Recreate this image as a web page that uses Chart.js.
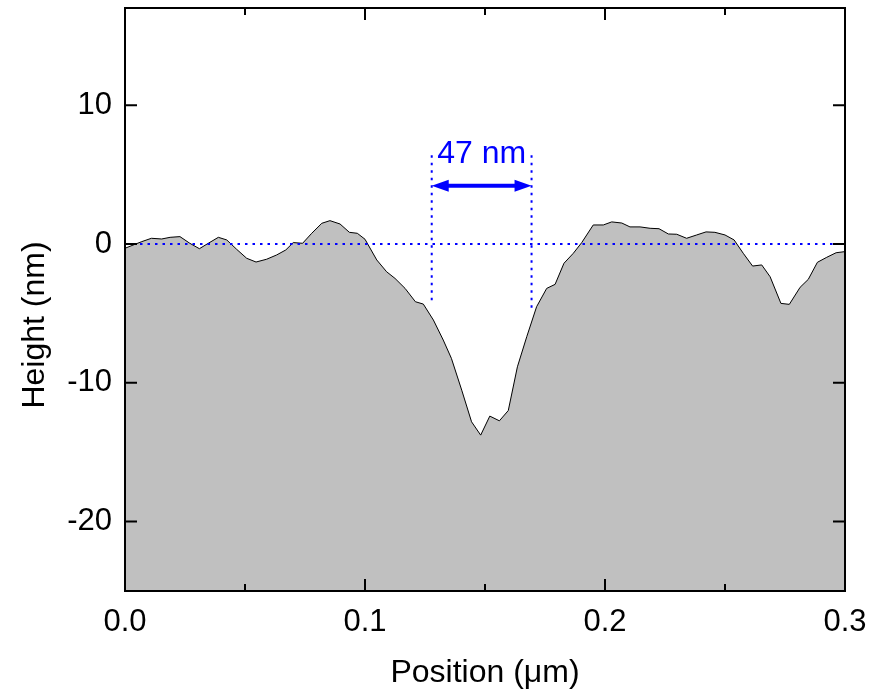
<!DOCTYPE html>
<html>
<head>
<meta charset="utf-8">
<script src="https://cdn.jsdelivr.net/npm/chart.js@4"></script>
<style>
  body { margin: 0; background: #fff; }
  #wrap { width: 875px; height: 691px; }
</style>
</head>
<body>
<div id="wrap"><canvas id="profile"></canvas></div>
<script>
// line profile across the groove
const positions = [0, 0.007, 0.011, 0.0153, 0.0188, 0.0229, 0.027, 0.031, 0.0347, 0.0389, 0.0424, 0.0465, 0.0507, 0.0546, 0.059, 0.0632, 0.067, 0.0701, 0.074, 0.0778, 0.082, 0.0854, 0.0896, 0.0935, 0.0968, 0.1, 0.1049, 0.109, 0.1125, 0.1167, 0.121, 0.1243, 0.1285, 0.1326, 0.136, 0.1403, 0.1444, 0.1482, 0.152, 0.156, 0.1597, 0.1635, 0.1674, 0.1715, 0.1757, 0.1792, 0.1829, 0.1868, 0.1903, 0.1951, 0.1993, 0.2028, 0.207, 0.2104, 0.2146, 0.2188, 0.2225, 0.2264, 0.2299, 0.234, 0.2382, 0.2421, 0.2458, 0.25, 0.2538, 0.2576, 0.2615, 0.2653, 0.2688, 0.2733, 0.2768, 0.2813, 0.2847, 0.2885, 0.2924, 0.2963, 0.3];
const heights = [-0.31, 0.17, 0.41, 0.36, 0.48, 0.53, 0.05, -0.34, 0.05, 0.48, 0.29, -0.38, -1.03, -1.30, -1.1, -0.79, -0.43, 0.1, 0.05, 0.77, 1.49, 1.68, 1.44, 0.84, 0.77, 0.34, -1.15, -2.0, -2.48, -3.2, -4.16, -4.33, -5.48, -6.92, -8.24, -10.53, -12.81, -13.77, -12.4, -12.74, -12.0, -8.85, -6.68, -4.52, -3.2, -2.91, -1.39, -0.67, 0.1, 1.37, 1.37, 1.59, 1.51, 1.23, 1.23, 1.13, 1.1, 0.72, 0.70, 0.41, 0.65, 0.87, 0.84, 0.65, 0.29, -0.67, -1.59, -1.51, -2.36, -4.28, -4.35, -3.12, -2.55, -1.32, -0.96, -0.63, -0.55];

const xTicks = [0, 0.1, 0.2, 0.3];
const xMinorTicks = [0.05, 0.15, 0.25];
const yTicks = [-20, -10, 0, 10];

// width marker: the two dotted verticals, their span and the label
const markerX = [0.1278, 0.1694];
const markerBottom = [-4.4, -4.7];
const markerTop = 6.4;
const arrowY = 4.2;
const markerLabel = "47 nm";
const labelY = 5.8;

const BLUE = "#0000ff";
const FONT = "'Liberation Sans', Arial, sans-serif";

const decorations = {
  id: "decorations",
  afterDatasetsDraw(chart) {
    const { ctx, chartArea: a, scales: { x, y } } = chart;
    ctx.save();

    // dotted zero line + marker lines
    ctx.strokeStyle = BLUE;
    ctx.lineWidth = 2;
    ctx.setLineDash([2.5, 5]);
    ctx.beginPath();
    ctx.moveTo(a.left, y.getPixelForValue(0));
    ctx.lineTo(a.right, y.getPixelForValue(0));
    markerX.forEach((mx, i) => {
      const px = x.getPixelForValue(mx);
      ctx.moveTo(px, y.getPixelForValue(markerTop));
      ctx.lineTo(px, y.getPixelForValue(markerBottom[i]));
    });
    ctx.stroke();
    ctx.setLineDash([]);

    // double arrow
    const x1 = x.getPixelForValue(markerX[0]);
    const x2 = x.getPixelForValue(markerX[1]);
    const ay = y.getPixelForValue(arrowY);
    const head = 17;
    ctx.lineWidth = 4;
    ctx.beginPath();
    ctx.moveTo(x1 + head - 2, ay);
    ctx.lineTo(x2 - head + 2, ay);
    ctx.stroke();
    ctx.fillStyle = BLUE;
    ctx.beginPath();
    ctx.moveTo(x1, ay);
    ctx.lineTo(x1 + head, ay - 6);
    ctx.lineTo(x1 + head, ay + 6);
    ctx.closePath();
    ctx.moveTo(x2, ay);
    ctx.lineTo(x2 - head, ay - 6);
    ctx.lineTo(x2 - head, ay + 6);
    ctx.closePath();
    ctx.fill();

    ctx.font = "32px " + FONT;
    ctx.textAlign = "center";
    ctx.textBaseline = "alphabetic";
    ctx.fillText(markerLabel, (x1 + x2) / 2, y.getPixelForValue(labelY));

    // frame with inward ticks on all four sides
    ctx.strokeStyle = "#000";
    ctx.lineWidth = 2;
    ctx.strokeRect(a.left, a.top, a.right - a.left, a.bottom - a.top);
    ctx.beginPath();
    xTicks.forEach(v => {
      const px = x.getPixelForValue(v);
      ctx.moveTo(px, a.bottom); ctx.lineTo(px, a.bottom - 12);
      ctx.moveTo(px, a.top); ctx.lineTo(px, a.top + 12);
    });
    xMinorTicks.forEach(v => {
      const px = x.getPixelForValue(v);
      ctx.moveTo(px, a.bottom); ctx.lineTo(px, a.bottom - 7);
      ctx.moveTo(px, a.top); ctx.lineTo(px, a.top + 7);
    });
    yTicks.forEach(v => {
      const py = y.getPixelForValue(v);
      ctx.moveTo(a.left, py); ctx.lineTo(a.left + 12, py);
      ctx.moveTo(a.right, py); ctx.lineTo(a.right - 12, py);
    });
    ctx.stroke();

    // axis titles
    ctx.fillStyle = "#000";
    ctx.font = "32px " + FONT;
    ctx.fillText("Position (\u03bcm)", (a.left + a.right) / 2, 682);
    ctx.translate(44, 325);
    ctx.rotate(-Math.PI / 2);
    ctx.fillText("Height (nm)", 0, 0);
    ctx.restore();
  }
};

new Chart(document.getElementById("profile"), {
  type: "line",
  data: {
    datasets: [{
      data: positions.map((p, i) => ({ x: p, y: heights[i] })),
      borderColor: "#000",
      borderWidth: 1,
      backgroundColor: "#c0c0c0",
      fill: "start",
      pointRadius: 0,
      tension: 0
    }]
  },
  options: {
    responsive: true,
    maintainAspectRatio: false,
    animation: false,
    layout: { padding: { top: 8, right: 30, left: 0, bottom: 0 } },
    plugins: { legend: { display: false }, tooltip: { enabled: false } },
    scales: {
      x: {
        type: "linear",
        min: 0,
        max: 0.3,
        afterFit(s) {
          s.height = 100;
          s.paddingLeft = 0;
          s.paddingRight = 0;
        },
        afterBuildTicks(s) { s.ticks = xTicks.map(v => ({ value: v })); },
        grid: { display: false, drawTicks: false },
        border: { display: false },
        ticks: {
          padding: 13,
          color: "#000",
          font: { size: 31, family: FONT },
          callback: v => v.toFixed(1)
        }
      },
      y: {
        min: -25,
        max: 17,
        afterFit(s) {
          s.width = 125;
          s.paddingTop = 0;
          s.paddingBottom = 0;
        },
        afterBuildTicks(s) { s.ticks = yTicks.map(v => ({ value: v })); },
        grid: { display: false, drawTicks: false },
        border: { display: false },
        ticks: {
          padding: 13,
          color: "#000",
          font: { size: 31, family: FONT }
        }
      }
    }
  },
  plugins: [decorations]
});
</script>
</body>
</html>
